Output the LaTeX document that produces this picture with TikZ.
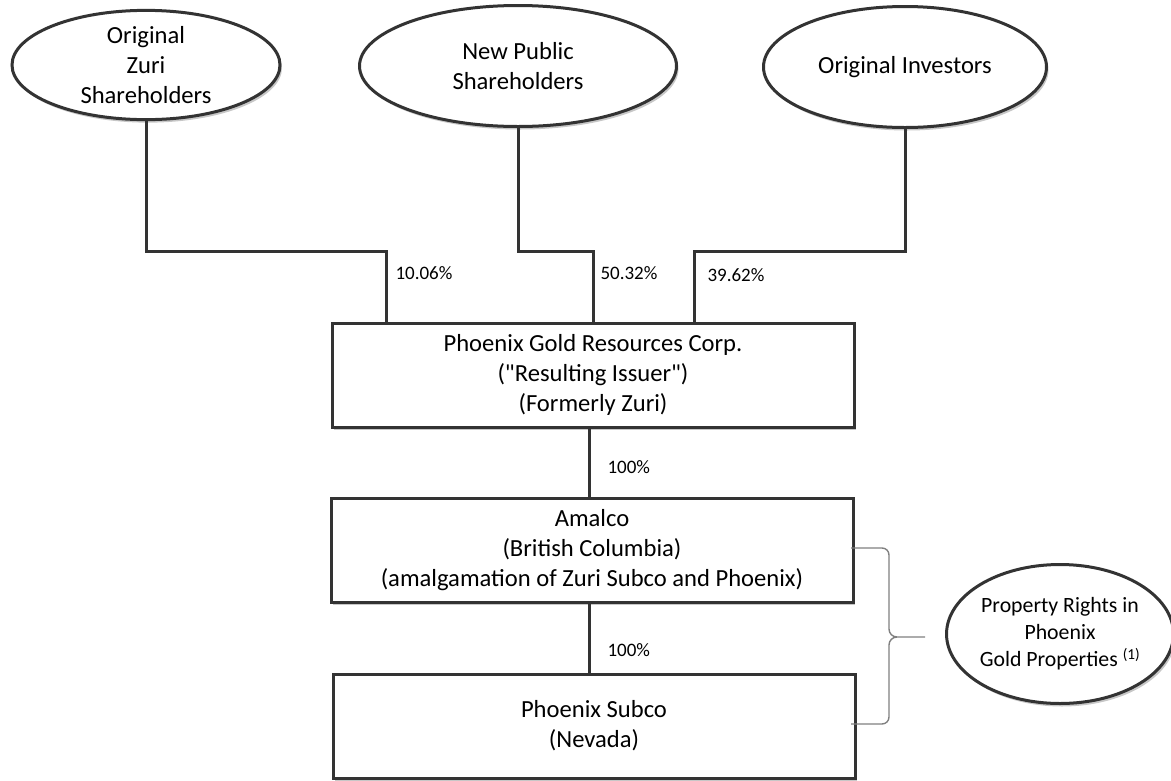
\documentclass[tikz,border=0pt]{standalone}
\usepackage{fontspec}
\setmainfont{Carlito}[Ligatures=TeXOff]
\usepackage{tikz}
\usetikzlibrary{shapes.geometric, shadows}

\begin{document}
\begin{tikzpicture}[x=1pt, y=-1pt, line width=3pt,
    holder/.style={ellipse, draw=black!80, fill=white, inner sep=0pt, align=center,
        font=\fontsize{24.6}{30}\selectfont,
        drop shadow={shadow xshift=2pt, shadow yshift=-3pt, fill=black!22, opacity=1}},
    entity/.style={rectangle, draw=black!80, fill=white, minimum width=522, minimum height=104,
        inner sep=0pt, align=center, font=\fontsize{24.6}{30}\selectfont,
        drop shadow={shadow xshift=2pt, shadow yshift=-3pt, fill=black!22, opacity=1}},
    link/.style={draw=black!80, line width=3pt},
    share/.style={anchor=west, inner sep=0pt, font=\fontsize{19}{23}\selectfont}]
    \useasboundingbox (0, 0) rectangle (1171, 780);

    % draw shareholder groups
    \node[holder, minimum width=268, minimum height=105] (zuri) at (146, 65) {Original\\Zuri\\Shareholders};
    \node[holder, minimum width=317, minimum height=121] (public) at (518, 66) {New Public\\Shareholders};
    \node[holder, minimum width=283, minimum height=121] (investors) at (905, 67) {Original Investors};

    % draw companies
    \node[entity] (issuer) at (593, 375) {Phoenix Gold Resources Corp.\\("Resulting Issuer")\\(Formerly Zuri)};
    \node[entity] (amalco) at (592, 550) {Amalco\\(British Columbia)\\(amalgamation of Zuri Subco and Phoenix)};
    \node[entity] (subco) at (594, 726) {Phoenix Subco\\(Nevada)};

    % draw property rights
    \node[holder, minimum width=223, minimum height=139, font=\fontsize{21.8}{27}\selectfont] (rights) at (1060, 634)
        {Property Rights in\\Phoenix\\Gold Properties \textsuperscript{(1)}};

    % draw ownership lines
    \coordinate (bend1) at (386, 251);
    \coordinate (bend2) at (593, 251);
    \coordinate (bend3) at (694, 251);
    \draw[link] (zuri.south) |- (bend1) -- (bend1 |- issuer.north);
    \draw[link] (public.south) |- (bend2) -- (bend2 |- issuer.north);
    \draw[link] (investors.south) |- (bend3) -- (bend3 |- issuer.north);
    \draw[link] (issuer.south -| 589, 0) -- (amalco.north -| 589, 0);
    \draw[link] (amalco.south -| 589, 0) -- (subco.north -| 589, 0);

    % draw percentages
    \node[share] (pzuri) at (394, 273) {10.06\%};
    \node[share] (ppublic) at (599, 273) {50.32\%};
    \node[share] (pinvestors) at (706, 275) {39.62\%};
    \node[share] (pamalco) at (606, 467) {100\%};
    \node[share] (psubco) at (606, 650) {100\%};

    % draw brace
    \coordinate (tip) at (925, 637);
    \draw[black!50, line width=1.4pt] (851, 548) -- (882, 548) to[out=0, in=90] (889, 555) -- (889, 629)
        to[out=-90, in=180] (897, 637) -- (tip) (897, 637) to[out=180, in=90] (889, 645) -- (889, 717)
        to[out=-90, in=0] (882, 724) -- (851, 724);
\end{tikzpicture}
\end{document}
